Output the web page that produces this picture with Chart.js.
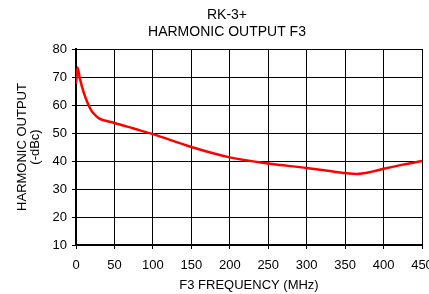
<!DOCTYPE html>
<html>
<head>
    <title>RK-3+ Harmonic Output F3</title>
    <style>
        body {
            margin: 0;
            background-color: #fff;
            overflow: hidden;
        }

        #wrap {
            position: relative;
            width: 429px;
            height: 294px;
        }
    </style>
    <script src="https://cdn.jsdelivr.net/npm/chart.js"></script>
</head>
<body>
    <div id="wrap">
        <canvas id="chart"></canvas>
    </div>
    <script>
        // values
        var freq = [0, 2, 5, 10, 15, 20, 25, 30, 40, 50, 75, 100, 150, 200, 250, 300, 330, 350, 365, 385, 400, 425, 450];
        var output = [67.5, 73.4, 69.5, 64.5, 60.8, 58, 56.4, 55.2, 54.3, 53.6, 51.6, 49.6, 45, 41.3, 39.1, 37.5, 36.4, 35.7, 35.4, 36.2, 37.2, 38.7, 40];
        var xTicks = [0, 50, 100, 150, 200, 250, 300, 350, 400, 450];
        var yTicks = [10, 20, 30, 40, 50, 60, 70, 80];

        var points = freq.map(function(f, i) {
            return { x: f, y: output[i] };
        });

        var family = '"Liberation Sans", Arial, sans-serif';

        var whiteBg = {
            id: 'whiteBg',
            beforeDraw: function(chart) {
                var ctx = chart.ctx;
                ctx.save();
                ctx.fillStyle = '#fff';
                ctx.fillRect(0, 0, chart.width, chart.height);
                ctx.restore();
            }
        };

        new Chart(document.getElementById('chart'), {
            type: 'scatter',
            data: {
                datasets: [{
                    data: points,
                    showLine: true,
                    borderColor: '#ff0000',
                    borderWidth: 2.5,
                    pointRadius: 0,
                    cubicInterpolationMode: 'monotone',
                    fill: false
                }]
            },
            options: {
                responsive: true,
                maintainAspectRatio: false,
                animation: false,
                layout: {
                    padding: { left: 25, right: 0, top: 0, bottom: 0 }
                },
                plugins: {
                    legend: { display: false },
                    tooltip: { enabled: false },
                    title: {
                        display: true,
                        text: ['RK-3+', 'HARMONIC OUTPUT F3'],
                        color: '#000',
                        font: { family: family, size: 14, weight: 'normal', lineHeight: 1.2 },
                        padding: { top: 6.6, bottom: 8.8 }
                    }
                },
                scales: {
                    x: {
                        type: 'linear',
                        min: 0,
                        max: 450,
                        afterBuildTicks: function(scale) {
                            scale.ticks = xTicks.map(function(v) { return { value: v }; });
                        },
                        afterFit: function(scale) {
                            scale.height = 49;
                            scale.paddingRight = 7;
                            scale.paddingLeft = 0;
                        },
                        grid: { color: '#000', lineWidth: 1, tickLength: 4 },
                        border: { display: true, color: '#000', width: 2 },
                        ticks: {
                            color: '#000',
                            padding: 9,
                            maxRotation: 0,
                            autoSkip: false,
                            font: { family: family, size: 13 }
                        },
                        title: {
                            display: true,
                            text: 'F3 FREQUENCY (MHz)',
                            color: '#000',
                            font: { family: family, size: 13, lineHeight: 1.2 },
                            padding: { top: 0, bottom: 1.2 }
                        }
                    },
                    y: {
                        min: 10,
                        max: 80,
                        afterBuildTicks: function(scale) {
                            scale.ticks = yTicks.map(function(v) { return { value: v }; });
                        },
                        afterFit: function(scale) {
                            scale.width = 51;
                            scale.paddingTop = 0;
                            scale.paddingBottom = 0;
                        },
                        grid: { color: '#000', lineWidth: 1, tickLength: 4 },
                        border: { display: true, color: '#000', width: 2 },
                        ticks: {
                            color: '#000',
                            padding: 5,
                            autoSkip: false,
                            font: { family: family, size: 13 }
                        },
                        title: {
                            display: true,
                            text: ['HARMONIC OUTPUT', '(-dBc)'],
                            color: '#000',
                            font: { family: family, size: 13, lineHeight: 1.05 },
                            padding: { top: -9.8, bottom: 0 }
                        }
                    }
                }
            },
            plugins: [whiteBg]
        });
    </script>
</body>
</html>
